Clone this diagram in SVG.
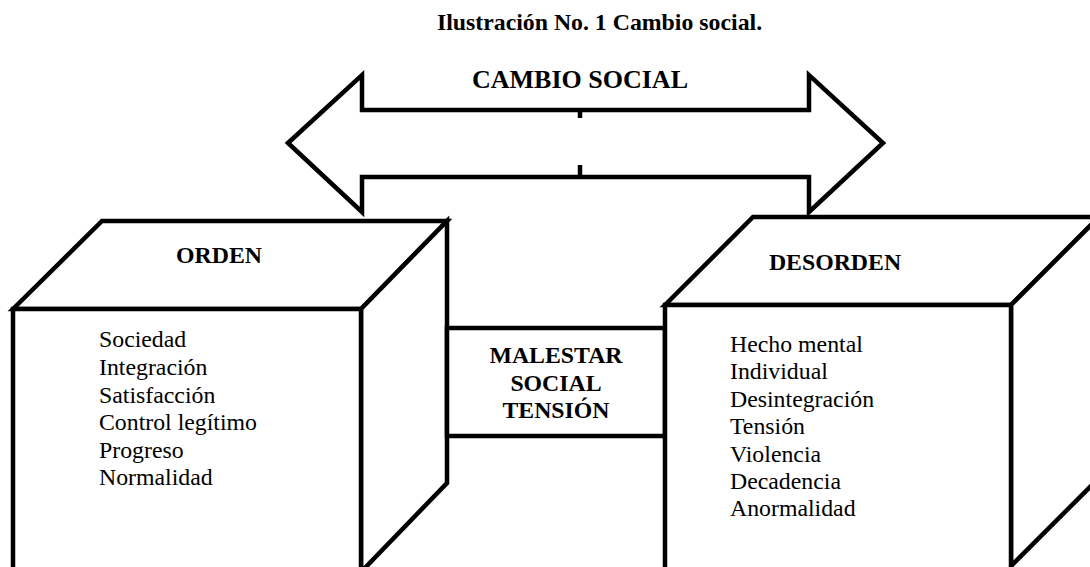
<svg xmlns="http://www.w3.org/2000/svg" width="1090" height="567" viewBox="0 0 1090 567">
<style>
.ln{fill:none;stroke:#000;stroke-width:4.5;stroke-linejoin:miter;stroke-linecap:butt}
.fill{fill:#fff;stroke:#000;stroke-width:4.5;stroke-linejoin:miter}
text{font-family:"Liberation Serif","Times New Roman",serif;fill:#000}
.b{font-weight:bold;font-size:23.8px;text-anchor:middle}
.t{font-size:23.8px}
</style>
<rect width="1090" height="567" fill="#fff"/>
<text class="b" x="599.5" y="30">Ilustración No. 1 Cambio social.</text>

<g id="cambio-social">
<polygon class="fill" stroke-width="4" points="288,143 362,75 362,110 809,110 809,75 883,143 809,212 809,177 362,177 362,212"/>
<line class="ln" stroke-width="4" x1="580" y1="110" x2="580" y2="118"/>
<line class="ln" stroke-width="4" x1="580" y1="165" x2="580" y2="177"/>
<text class="b" x="580" y="88" font-size="26px" style="font-size:26px">CAMBIO SOCIAL</text>
</g>

<g id="orden">
<polygon class="fill" points="13,309 102,221 447,221 361,309"/>
<polygon class="fill" points="361,309 447,221 447,483 361,572"/>
<rect class="fill" x="13" y="309" width="348" height="265"/>
<text class="b" x="219" y="263">ORDEN</text>
<text class="t" x="99" y="347">Sociedad</text>
<text class="t" x="99" y="375">Integración</text>
<text class="t" x="99" y="403">Satisfacción</text>
<text class="t" x="99" y="430">Control legítimo</text>
<text class="t" x="99" y="458">Progreso</text>
<text class="t" x="99" y="485">Normalidad</text>
</g>

<g id="malestar">
<rect class="fill" x="447" y="328" width="218" height="108"/>
<text class="b" x="556" y="363">MALESTAR</text>
<text class="b" x="556" y="391">SOCIAL</text>
<text class="b" x="556" y="418">TENSIÓN</text>
</g>

<g id="desorden">
<polygon class="fill" points="665,305 753,217 1099,217 1011,305"/>
<polygon class="fill" points="1011,305 1099,217 1099,478 1011,566"/>
<rect class="fill" x="665" y="305" width="346" height="268"/>
<text class="b" x="835" y="270">DESORDEN</text>
<text class="t" x="730" y="352">Hecho mental</text>
<text class="t" x="730" y="379">Individual</text>
<text class="t" x="730" y="407">Desintegración</text>
<text class="t" x="730" y="434">Tensión</text>
<text class="t" x="730" y="462">Violencia</text>
<text class="t" x="730" y="489">Decadencia</text>
<text class="t" x="730" y="516">Anormalidad</text>
</g>

<g id="connectors"></g>
</svg>
